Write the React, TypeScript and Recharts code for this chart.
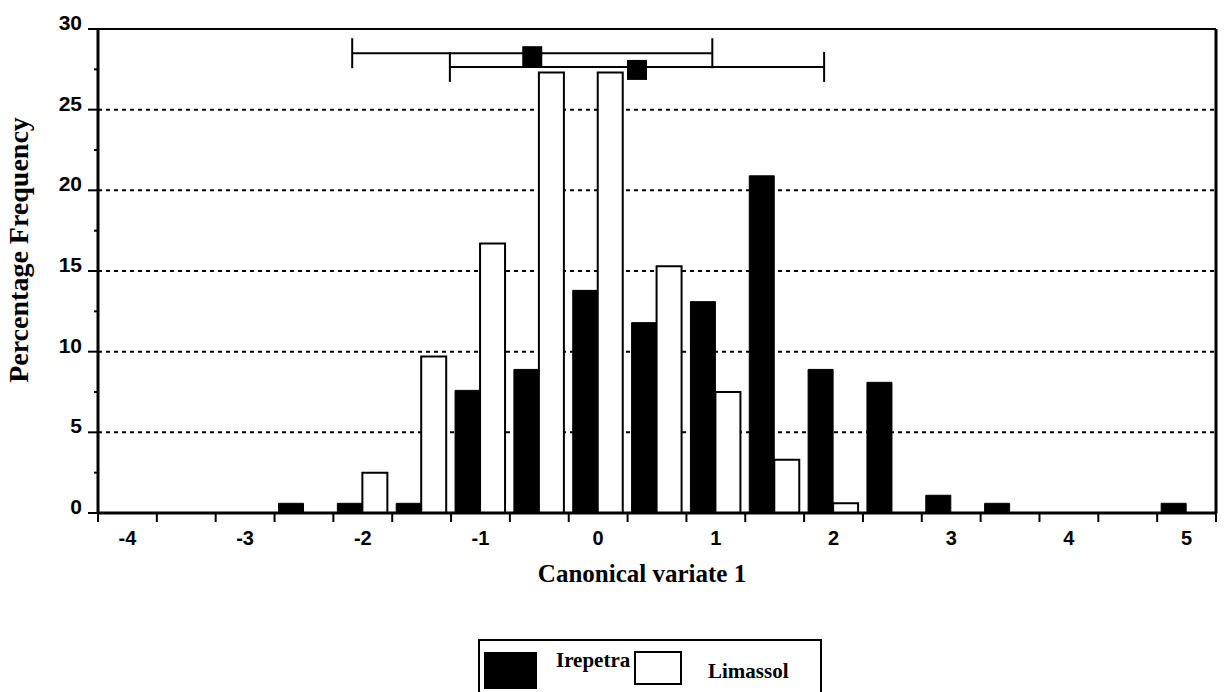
import React from "react";
import {
    ComposedChart,
    Bar,
    Scatter,
    ErrorBar,
    XAxis,
    YAxis,
    CartesianGrid,
    ReferenceLine,
    Label,
} from "recharts";

// histogram bins (centre of each 0.5 wide bin)
const binCenters = [-4, -3.5, -3, -2.5, -2, -1.5, -1, -0.5, 0, 0.5, 1, 1.5, 2, 2.5, 3, 3.5, 4, 4.5, 5];
const irepetraPct = [0, 0, 0, 0.6, 0.6, 0.6, 7.6, 8.9, 13.8, 11.8, 13.1, 20.9, 8.9, 8.1, 1.1, 0.6, 0, 0, 0.6];
const limassolPct = [0, 0, 0, 0, 2.5, 9.7, 16.7, 27.3, 27.3, 15.3, 7.5, 3.3, 0.6, 0, 0, 0, 0, 0, 0];

const xTickLabels = [-4, -3, -2, -1, 0, 1, 2, 3, 4, 5];
const binEdges = [-4.25, -3.75, -3.25, -2.75, -2.25, -1.75, -1.25, -0.75, -0.25, 0.25, 0.75, 1.25, 1.75, 2.25, 2.75, 3.25, 3.75, 4.25, 4.75, 5.25];
const yTickLabels = [0, 5, 10, 15, 20, 25, 30];
const yMinorTicks = [2.5, 7.5, 12.5, 17.5, 22.5, 27.5];
const gridLevels = [5, 10, 15, 20, 25];

// group means with their ranges, drawn across the top
const meanX = [-0.56, 0.33];
const meanRow = [28.5, 27.65];
const meanSpread = [1.53, 1.59];

const bins = binCenters.map((x, i) => ({ x, irepetra: irepetraPct[i], limassol: limassolPct[i] }));
const means = meanX.map((x, i) => ({ x, y: meanRow[i], err: meanSpread[i] }));
const xTicks = [...binEdges, ...xTickLabels].sort((a, b) => a - b);
const yTicks = [...yTickLabels, ...yMinorTicks].sort((a, b) => a - b);
const xDomain = [-4.25, 5.25];

const tickFont = "'Liberation Sans', Arial, sans-serif";
const titleFont = "'Liberation Serif', 'Times New Roman', serif";

const XTick = ({ x, y, payload }: any) => {
    const v = payload.value;
    if (xTickLabels.includes(v)) {
        return (
            <text x={x} y={y + 32} textAnchor="middle" fontFamily={tickFont} fontWeight="bold" fontSize={20} fill="#000">
                {String(v)}
            </text>
        );
    }
    return <line x1={x} y1={y} x2={x} y2={y + 9} stroke="#000" strokeWidth={2} />;
};

const YTick = ({ x, y, payload }: any) => {
    const v = payload.value;
    if (yTickLabels.includes(v)) {
        return (
            <g>
                <line x1={x - 10} y1={y} x2={x} y2={y} stroke="#000" strokeWidth={2} />
                <text x={x - 16} y={y + 1} textAnchor="end" fontFamily={tickFont} fontWeight="bold" fontSize={21} fill="#000">
                    {String(v)}
                </text>
            </g>
        );
    }
    return <line x1={x - 4} y1={y} x2={x} y2={y} stroke="#000" strokeWidth={2} />;
};

const XTitle = ({ viewBox }: any) => (
    <text
        x={viewBox.x + viewBox.width / 2 - 15}
        y={viewBox.y + 69}
        textAnchor="middle"
        fontFamily={titleFont}
        fontWeight="bold"
        fontSize={25}
        fill="#000"
    >
        Canonical variate 1
    </text>
);

const YTitle = ({ viewBox }: any) => {
    const cx = 28;
    const cy = viewBox.y + viewBox.height / 2 - 21;
    return (
        <text
            x={cx}
            y={cy}
            transform={`rotate(-90, ${cx}, ${cy})`}
            textAnchor="middle"
            fontFamily={titleFont}
            fontWeight="bold"
            fontSize={28}
            fill="#000"
        >
            Percentage Frequency
        </text>
    );
};

const MeanMark = (props: any) => (
    <rect x={props.cx - 10} y={props.cy - 7} width={20} height={20} fill="#000" />
);

const LegendBox = () => (
    <div
        style={{
            position: "absolute",
            left: 478,
            top: 639,
            width: 340,
            height: 60,
            border: "2px solid #000",
            fontFamily: titleFont,
            fontWeight: "bold",
            fontSize: 21,
        }}
    >
        <div style={{ position: "absolute", left: 4, top: 11, width: 53, height: 37, background: "#000" }} />
        <div style={{ position: "absolute", left: 76, top: 6, lineHeight: "26px" }}>Irepetra</div>
        <div
            style={{
                position: "absolute",
                left: 154,
                top: 10,
                width: 44,
                height: 30,
                border: "2px solid #000",
                background: "#fff",
            }}
        />
        <div style={{ position: "absolute", left: 228, top: 17, lineHeight: "26px" }}>Limassol</div>
    </div>
);

export default function App() {
    return (
        <div
            style={{
                position: "absolute",
                left: 0,
                top: 0,
                width: 1228,
                height: 692,
                overflow: "hidden",
                background: "#fff",
            }}
        >
            <ComposedChart
                width={1228}
                height={600}
                data={bins}
                margin={{ top: 29, right: 12, left: 0, bottom: 0 }}
                barGap={0}
            >
                <CartesianGrid
                    vertical={false}
                    horizontalValues={gridLevels}
                    stroke="#000"
                    strokeWidth={2}
                    strokeDasharray="4 4"
                />
                <XAxis
                    type="number"
                    dataKey="x"
                    domain={xDomain}
                    allowDataOverflow
                    ticks={xTicks}
                    interval={0}
                    tickLine={false}
                    tickSize={0}
                    tickMargin={0}
                    tick={<XTick />}
                    axisLine={{ stroke: "#000", strokeWidth: 3 }}
                    height={87}
                >
                    <Label content={<XTitle />} />
                </XAxis>
                {/* hidden twin axis: keeps the bar band wide enough for paired bars */}
                <XAxis xAxisId="bars" type="number" dataKey="x" domain={xDomain} allowDataOverflow hide />
                <YAxis
                    type="number"
                    dataKey="y"
                    domain={[0, 30]}
                    allowDataOverflow
                    ticks={yTicks}
                    interval={0}
                    tickLine={false}
                    tickSize={0}
                    tickMargin={0}
                    tick={<YTick />}
                    axisLine={{ stroke: "#000", strokeWidth: 3 }}
                    width={98}
                >
                    <Label content={<YTitle />} />
                </YAxis>
                <ReferenceLine y={30} stroke="#000" strokeWidth={2} />
                <ReferenceLine x={5.25} stroke="#000" strokeWidth={3} />
                <Bar xAxisId="bars" dataKey="irepetra" name="Irepetra" fill="#000" stroke="#000" strokeWidth={1} barSize={25} isAnimationActive={false} />
                <Bar xAxisId="bars" dataKey="limassol" name="Limassol" fill="#fff" stroke="#000" strokeWidth={2} barSize={25} isAnimationActive={false} />
                <Scatter data={means} dataKey="y" shape={<MeanMark />} isAnimationActive={false}>
                    <ErrorBar dataKey="err" direction="x" width={15} stroke="#000" strokeWidth={2} />
                </Scatter>
            </ComposedChart>
            <LegendBox />
        </div>
    );
}
